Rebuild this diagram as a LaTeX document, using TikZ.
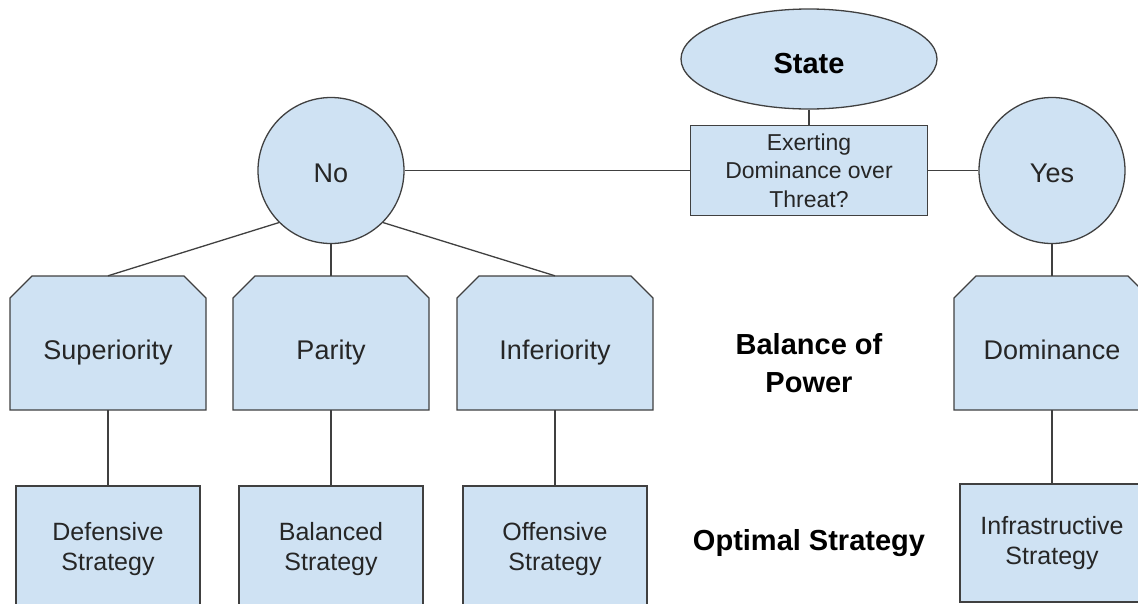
\documentclass[tikz,border=0pt]{standalone}
\usepackage{fontspec}
\setmainfont{Liberation Sans}
\usetikzlibrary{shapes.geometric}
\definecolor{fillblue}{HTML}{CFE2F3}
\definecolor{strokec}{HTML}{404040}
\definecolor{txtc}{HTML}{262626}
\newcommand\chbox[6]{% name, cx, cy, w, h, text
  \draw[shp] (#2-#4/2, #3+#5/2) -- (#2-#4/2, #3-#5/2+22) -- (#2-#4/2+22, #3-#5/2)
    -- (#2+#4/2-22, #3-#5/2) -- (#2+#4/2, #3-#5/2+22) -- (#2+#4/2, #3+#5/2) -- cycle;
  \node[txt, minimum width=#4pt, minimum height=#5pt, text height=32pt, text depth=0pt,
        font=\fontsize{27}{32}\selectfont] (#1) at (#2,#3) {#6};
}
\begin{document}
\begin{tikzpicture}[x=1pt,y=-1pt,
  shp/.style={draw=strokec,fill=fillblue,line width=1.3pt},
  lnk/.style={draw=strokec,line width=1.3pt},
  txt/.style={text=txtc,align=center,inner sep=0pt},
  circ/.style={shp,txt,circle,minimum size=146pt,text height=24pt,text depth=0pt,font=\fontsize{27}{32}\selectfont},
  strat/.style={shp,txt,rectangle,minimum width=184pt},
  lbl/.style={align=center,inner sep=0pt,font=\bfseries\fontsize{29}{38}\selectfont,text=black}]
\useasboundingbox (0,0) rectangle (1138,603);
\clip (0,0) rectangle (1138,603);

% top
\node[shp,txt,ellipse,minimum width=256pt,minimum height=100pt,text height=29pt,text depth=0pt,
      font=\bfseries\fontsize{29}{34}\selectfont,text=black] (state) at (809,59) {State};
\node[shp,txt,rectangle,minimum width=237pt,minimum height=90pt,font=\fontsize{23}{28.5}\selectfont] (q) at (809,170.5) {Exerting\\Dominance over\\Threat?};
\node[circ] (no) at (331,170.5) {No};
\node[circ] (yes) at (1052,170.5) {Yes};

% balance of power
\chbox{sup}{108}{343}{196}{134}{Superiority}
\chbox{par}{331}{343}{196}{134}{Parity}
\chbox{inf}{555}{343}{196}{134}{Inferiority}
\chbox{dom}{1052}{343}{196}{134}{Dominance}

% strategies
\node[strat,minimum height=126pt,font=\fontsize{25}{30}\selectfont] (def) at (108,549) {Defensive\\Strategy};
\node[strat,minimum height=126pt,font=\fontsize{25}{30}\selectfont] (bal) at (331,549) {Balanced\\Strategy};
\node[strat,minimum height=126pt,font=\fontsize{25}{30}\selectfont] (off) at (555,549) {Offensive\\Strategy};
\node[strat,minimum height=118pt,font=\fontsize{25}{29.5}\selectfont] (infra) at (1052,543) {Infrastructive\\Strategy};

% labels
\node[lbl] (bop) at (809,363) {Balance of\\Power};
\node[lbl] (opt) at (809,543) {Optimal Strategy};

% connectors
\draw[lnk] (state.south) -- (q.north);
\draw[lnk] (no.east) -- (q.west);
\draw[lnk] (q.east) -- (yes.west);
\draw[lnk] (no.225) -- (sup.north);
\draw[lnk] (no.south) -- (par.north);
\draw[lnk] (no.-45) -- (inf.north);
\draw[lnk] (yes.south) -- (dom.north);
\draw[lnk] (sup.south) -- (def.north);
\draw[lnk] (par.south) -- (bal.north);
\draw[lnk] (inf.south) -- (off.north);
\draw[lnk] (dom.south) -- (infra.north);
\end{tikzpicture}
\end{document}
